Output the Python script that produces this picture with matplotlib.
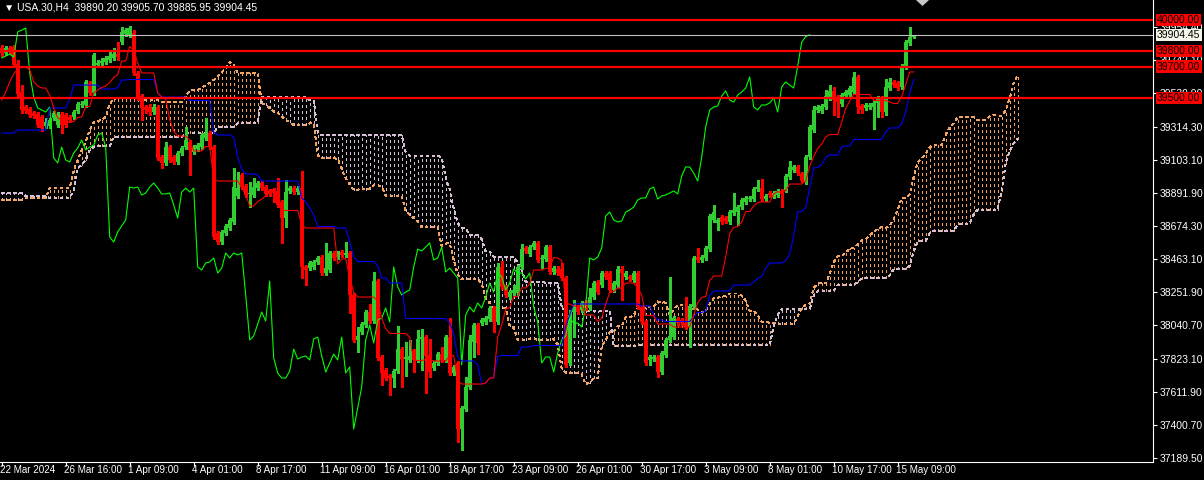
import numpy as np
import matplotlib.pyplot as plt
import matplotlib.transforms as mtransforms
from matplotlib.patches import Polygon

plt.rcParams['font.family'] = ['Liberation Sans', 'DejaVu Sans']
plt.rcParams['lines.scale_dashes'] = False

symbol = 'USA.30,H4'
last_ohlc = [39890.20, 39905.70, 39885.95, 39904.45]

# H4 candles, oldest first
opens = [
    39820, 39788, 39820, 39826, 39717, 39537, 39441, 39428, 39403, 39396,
    39377, 39319, 39319, 39370, 39326, 39396, 39390, 39377, 39377, 39415,
    39454, 39454, 39595, 39531, 39711, 39724, 39730, 39743, 39756, 39781,
    39858, 39910, 39903, 39916, 39659, 39512, 39441, 39441, 39409, 39441,
    39120, 39082, 39184, 39120, 39088, 39146, 39184, 39216, 39152, 39171,
    39184, 39242, 39274, 39184, 38632, 38574, 38632, 38664, 38703, 38870,
    39005, 38934, 38883, 38876, 38921, 38953, 38927, 38902, 38908, 38895,
    38831, 38728, 38902, 38921, 38895, 38921, 38414, 38407, 38414, 38446,
    38478, 38375, 38395, 38504, 38478, 38510, 38491, 38504, 38234, 37945,
    37997, 38042, 38125, 38067, 38324, 37836, 37753, 37714, 37701, 37746,
    37887, 37823, 37817, 37875, 37817, 37952, 37964, 37849, 37765, 37798,
    37855, 37817, 37964, 37733, 37798, 37374, 37502, 37644, 37932, 38042,
    38054, 38061, 38080, 38151, 38061, 38414, 38286, 38221, 38247, 38247,
    38414, 38536, 38497, 38542, 38568, 38465, 38465, 38542, 38382, 38401,
    38401, 38343, 37798, 38125, 38157, 38138, 38189, 38151, 38221, 38318,
    38298, 38375, 38375, 38266, 38298, 38401, 38350, 38350, 38330, 38375,
    38157, 38061, 37817, 37823, 37836, 37740, 37849, 37945, 37964, 38080,
    38074, 38054, 38029, 38157, 38478, 38459, 38472, 38529, 38716, 38696,
    38735, 38728, 38703, 38760, 38767, 38799, 38831, 38850, 38850, 38915,
    38921, 38850, 38889, 38870, 38876, 38902, 38908, 38992, 39037, 39056,
    39011, 38960, 39120, 39293, 39422, 39415, 39441, 39499, 39544, 39505,
    39460, 39512, 39518, 39537, 39634, 39448, 39435, 39441, 39441, 39467,
    39499, 39409, 39563, 39602, 39595, 39570, 39698, 39852, 39890.20]
highs = [
    39839, 39833, 39833, 39839, 39743, 39582, 39454, 39441, 39415, 39409,
    39390, 39370, 39370, 39415, 39409, 39409, 39403, 39390, 39422, 39473,
    39480, 39614, 39608, 39788, 39743, 39756, 39768, 39794, 39820, 39858,
    39955, 39948, 39961, 39935, 39672, 39525, 39454, 39460, 39460, 39454,
    39133, 39216, 39197, 39133, 39159, 39191, 39313, 39229, 39197, 39210,
    39274, 39370, 39287, 39197, 38645, 38651, 38690, 38728, 39049, 39024,
    39017, 38947, 38960, 38985, 38966, 38966, 38940, 38915, 38921, 38985,
    38844, 38972, 38934, 38934, 38934, 39030, 38427, 38452, 38459, 38484,
    38491, 38568, 38517, 38517, 38517, 38523, 38574, 38517, 38247, 38029,
    38061, 38138, 38176, 38382, 38337, 37849, 37765, 37727, 37759, 38035,
    37900, 37932, 37945, 37887, 38009, 38016, 37977, 37952, 37810, 37868,
    37900, 37977, 38086, 37785, 37810, 37522, 37708, 37977, 38054, 38054,
    38086, 38099, 38163, 38163, 38440, 38452, 38298, 38266, 38298, 38427,
    38562, 38549, 38555, 38581, 38581, 38491, 38555, 38555, 38420, 38420,
    38440, 38356, 38138, 38202, 38170, 38196, 38202, 38279, 38324, 38330,
    38388, 38388, 38388, 38324, 38420, 38420, 38388, 38362, 38388, 38388,
    38170, 38074, 37849, 37849, 37849, 37875, 37958, 38350, 38099, 38093,
    38086, 38221, 38176, 38484, 38536, 38491, 38549, 38754, 38812, 38728,
    38748, 38741, 38780, 38889, 38812, 38857, 38870, 38870, 38927, 38972,
    38979, 38883, 38902, 38902, 38915, 38915, 39011, 39094, 39069, 39069,
    39024, 39133, 39326, 39448, 39454, 39460, 39550, 39582, 39570, 39518,
    39531, 39550, 39576, 39666, 39647, 39460, 39467, 39467, 39480, 39512,
    39512, 39621, 39627, 39614, 39608, 39717, 39871, 39955, 39905.70]
lows = [
    39768, 39775, 39781, 39704, 39512, 39403, 39403, 39377, 39370, 39313,
    39287, 39306, 39306, 39358, 39313, 39274, 39313, 39345, 39364, 39403,
    39441, 39441, 39518, 39518, 39698, 39711, 39717, 39730, 39743, 39743,
    39846, 39897, 39890, 39647, 39486, 39358, 39403, 39390, 39396, 39101,
    39049, 39069, 39088, 39075, 39075, 39133, 39171, 39005, 39139, 39159,
    39171, 39229, 39171, 38594, 38562, 38562, 38619, 38651, 38690, 38857,
    38915, 38863, 38799, 38863, 38908, 38908, 38870, 38870, 38831, 38799,
    38568, 38671, 38889, 38883, 38883, 38343, 38298, 38395, 38401, 38433,
    38362, 38362, 38382, 38459, 38465, 38478, 38478, 38118, 37932, 37868,
    37984, 38029, 38054, 38054, 37817, 37656, 37688, 37592, 37644, 37733,
    37644, 37714, 37804, 37740, 37804, 37753, 37605, 37708, 37753, 37785,
    37804, 37804, 37721, 37721, 37290, 37239, 37489, 37631, 37836, 37855,
    38042, 38048, 38067, 37997, 38048, 38273, 38221, 38208, 38228, 38234,
    38401, 38504, 38484, 38529, 38446, 38407, 38452, 38369, 38369, 38362,
    38330, 37772, 37785, 37964, 38112, 38125, 38138, 38138, 38208, 38241,
    38286, 38337, 38253, 38253, 38286, 38202, 38337, 38324, 38318, 38144,
    38048, 37785, 37785, 37810, 37708, 37727, 37836, 37932, 37952, 38042,
    38042, 38016, 37900, 38144, 38446, 38446, 38459, 38517, 38703, 38651,
    38690, 38696, 38690, 38748, 38684, 38786, 38818, 38838, 38838, 38902,
    38838, 38838, 38863, 38857, 38863, 38799, 38895, 38979, 39024, 39005,
    38960, 38947, 39107, 39281, 39409, 39403, 39428, 39486, 39390, 39377,
    39448, 39499, 39505, 39525, 39403, 39403, 39422, 39428, 39300, 39377,
    39377, 39390, 39550, 39570, 39550, 39557, 39685, 39839, 39885.95]
closes = [
    39788, 39820, 39801, 39711, 39525, 39422, 39415, 39390, 39383, 39326,
    39306, 39345, 39358, 39403, 39396, 39326, 39326, 39358, 39409, 39460,
    39460, 39602, 39531, 39775, 39724, 39736, 39756, 39768, 39781, 39762,
    39923, 39935, 39948, 39659, 39505, 39435, 39422, 39409, 39441, 39114,
    39082, 39184, 39101, 39088, 39146, 39178, 39229, 39165, 39184, 39197,
    39261, 39274, 39184, 38606, 38574, 38639, 38677, 38716, 38927, 38921,
    38927, 38876, 38889, 38927, 38953, 38921, 38883, 38883, 38889, 38812,
    38728, 38895, 38921, 38895, 38921, 38414, 38395, 38440, 38446, 38472,
    38375, 38407, 38504, 38472, 38504, 38491, 38504, 38234, 37945, 37971,
    38048, 38125, 38067, 38324, 37830, 37733, 37701, 37701, 37746, 37887,
    37823, 37836, 37843, 37817, 37952, 37964, 37843, 37740, 37798, 37855,
    37817, 37964, 37733, 37772, 37374, 37509, 37644, 37945, 38042, 37926,
    38074, 38086, 38151, 38061, 38414, 38286, 38234, 38253, 38266, 38414,
    38529, 38517, 38542, 38568, 38459, 38472, 38542, 38382, 38407, 38375,
    38343, 37785, 38106, 38157, 38125, 38183, 38151, 38221, 38311, 38253,
    38375, 38350, 38266, 38311, 38401, 38375, 38375, 38337, 38375, 38157,
    38061, 37798, 37836, 37836, 37740, 37862, 37945, 37971, 38086, 38054,
    38054, 38029, 38163, 38472, 38459, 38478, 38536, 38741, 38767, 38716,
    38703, 38709, 38767, 38780, 38799, 38844, 38857, 38857, 38915, 38927,
    38850, 38870, 38876, 38889, 38902, 38883, 38998, 39056, 39056, 39017,
    38966, 39120, 39313, 39422, 39441, 39448, 39512, 39544, 39486, 39473,
    39518, 39537, 39563, 39634, 39441, 39422, 39454, 39454, 39467, 39499,
    39409, 39570, 39602, 39582, 39563, 39704, 39858, 39893, 39904.45]

# indicator values at the left edge, which depend on bars before the window
tenkan_head = [39486, 39537, 39602, 39653, 39685, 39698, 39698, 39679]
kijun_head = [39274, 39274, 39274, 39274, 39293, 39293, 39293, 39293, 39293,
              39293, 39293, 39293, 39435, 39435, 39435, 39435, 39435, 39492,
              39582, 39582, 39582, 39582, 39582, 39582, 39582]
span_a_head = [
    38844, 38844, 38844, 38844, 38844, 38844, 38857, 38857, 38857, 38857,
    38857, 38857, 38921, 38921, 38921, 38921, 38921, 38921, 39037, 39101,
    39165, 39216, 39293, 39345, 39351, 39358, 39377, 39460, 39492, 39499,
    39499, 39499, 39499, 39499, 39486, 39486, 39486, 39486, 39486, 39486,
    39473, 39473, 39473, 39473, 39473, 39473, 39512, 39544, 39550, 39550,
    39563, 39582, 39595, 39614, 39640, 39666, 39691, 39730, 39711, 39659,
    39659, 39659, 39659, 39659, 39659, 39467, 39454, 39435, 39409, 39403,
    39383, 39358, 39345, 39326, 39326, 39326, 39326]
span_b_head = [
    38889, 38889, 38889, 38889, 38889, 38889, 38870, 38870, 38870, 38870,
    38870, 38870, 38857, 38857, 38857, 38857, 38857, 38857, 38908, 39049,
    39069, 39101, 39165, 39184, 39191, 39191, 39191, 39191, 39248, 39248,
    39248, 39248, 39248, 39248, 39248, 39248, 39248, 39248, 39248, 39248,
    39248, 39248, 39248, 39248, 39248, 39248, 39274, 39274, 39274, 39274,
    39274, 39274, 39274, 39274, 39313, 39313, 39313, 39313, 39313, 39338,
    39338, 39338, 39338, 39338, 39338, 39505, 39505, 39505, 39505, 39505,
    39505, 39505, 39505, 39505, 39505, 39505, 39505]

levels = [40000.00, 39800.00, 39700.00, 39500.00]
price_ticks = [39954.40, 39742.10, 39530.90, 39314.30, 39103.10, 38891.90,
               38674.30, 38463.10, 38251.90, 38040.70, 37823.10, 37611.90,
               37400.70, 37189.50]
time_labels = ['22 Mar 2024', '26 Mar 16:00', '1 Apr 09:00', '4 Apr 01:00',
               '8 Apr 17:00', '11 Apr 09:00', '16 Apr 01:00', '18 Apr 17:00',
               '23 Apr 09:00', '26 Apr 01:00', '30 Apr 17:00', '3 May 09:00',
               '8 May 01:00', '10 May 17:00', '15 May 09:00']
label_step = 16

o = np.array(opens, float)
c = np.array(closes, float)
h = np.maximum(np.array(highs, float), np.maximum(o, c))
l = np.minimum(np.array(lows, float), np.minimum(o, c))
n = len(c)
x = np.arange(n)

# Ichimoku 9/26/52
def midpoint(i, period):
    return (h[i - period + 1:i + 1].max() + l[i - period + 1:i + 1].min()) / 2

tenkan = np.array([tenkan_head[i] if i < len(tenkan_head) else midpoint(i, 9) for i in range(n)])
kijun = np.array([kijun_head[i] if i < len(kijun_head) else midpoint(i, 26) for i in range(n)])
span_a = np.full(n + 26, np.nan)
span_b = np.full(n + 26, np.nan)
for i in range(n + 26):
    if i < len(span_a_head):
        span_a[i] = span_a_head[i]
        span_b[i] = span_b_head[i]
    else:
        j = i - 26
        span_a[i] = (tenkan[j] + kijun[j]) / 2
        span_b[i] = midpoint(j, 52)
chikou = c[26:]

fig = plt.figure(figsize=(12.04, 4.8), dpi=100, facecolor='black')
ax = fig.add_axes([0, 18 / 480, 1153 / 1204, 462 / 480])
ax.set_facecolor('black')
ax.set_xlim(-0.425, 287.825)
ax.set_ylim(37162, 40128)

# cloud: dotted columns, one per bar
dots = (0, (1.8, 2.2))
xc = np.arange(n + 26)
lo = np.minimum(span_a, span_b)
hi = np.maximum(span_a, span_b)
kumo_col = np.where(span_a >= span_b, 'sandybrown', 'thistle')
ax.vlines(xc, lo, hi, colors=list(kumo_col), linestyles=dots, lw=0.6,
          antialiased=False, zorder=1)
ax.plot(xc, span_a, color='sandybrown', lw=0.6, ls=dots, antialiased=False, zorder=1)
ax.plot(xc, span_b, color='thistle', lw=0.6, ls=dots, antialiased=False, zorder=1)

# candles
col = np.where(c >= o, 'limegreen', 'red')
ax.vlines(x, l, h, colors=list(col), lw=0.8, antialiased=False, zorder=2)
ax.bar(x, np.maximum(np.abs(c - o), 4), bottom=np.minimum(o, c), width=0.75,
       color=list(col), linewidth=0, antialiased=False, zorder=3)

# lines
ax.plot(x[:len(chikou)], chikou, color='lime', lw=0.8, zorder=4)
ax.plot(x, kijun, color='blue', lw=0.8, zorder=4)
ax.plot(x, tenkan, color='red', lw=0.8, zorder=4)

ax.axhline(last_ohlc[3], color='#c0c0c0', lw=0.8, zorder=5)
for lv in levels:
    ax.axhline(lv, color='red', lw=1.6, zorder=6)

# axes look
for s in ['top', 'left']:
    ax.spines[s].set_visible(False)
for s in ['right', 'bottom']:
    ax.spines[s].set_color('white')
    ax.spines[s].set_linewidth(0.8)
ax.yaxis.tick_right()
ax.set_yticks(price_ticks)
ax.set_yticklabels(['%.2f' % p for p in price_ticks])
ax.tick_params(axis='y', colors='white', length=3, width=0.8, pad=2, labelsize=7.5)
ax.set_xticks(np.arange(len(time_labels)) * label_step)
ax.set_xticklabels([])
ax.tick_params(axis='x', colors='white', length=3, width=0.8)

for k, lab in enumerate(time_labels):
    ax.text(k * label_step - 0.5, -0.018, lab, transform=mtransforms.blended_transform_factory(
        ax.transData, ax.transAxes), color='white', fontsize=7.1, ha='left', va='center',
        clip_on=False)

# price labels on the axis
tr = mtransforms.blended_transform_factory(fig.transFigure, ax.transData)
for lv in levels:
    ax.text(1157 / 1204, lv, '%.2f' % lv, transform=tr, color='black', fontsize=7.5,
            ha='left', va='center', clip_on=False, zorder=10,
            bbox=dict(boxstyle='square,pad=0.12', fc='red', ec='none'))
ax.text(1157 / 1204, last_ohlc[3], '%.2f' % last_ohlc[3], transform=tr, color='black',
        fontsize=7.5, ha='left', va='center', clip_on=False, zorder=10,
        bbox=dict(boxstyle='square,pad=0.12', fc='#f4f4e8', ec='none'))

header = '\u25bc %s  %s' % (symbol, ' '.join('%.2f' % v for v in last_ohlc))
fig.text(4 / 1204, 1 - 7 / 480, header, color='white', fontsize=7.5, va='center', ha='left')

# chart shift marker
fig.patches.append(Polygon([(916 / 1204, 1), (929 / 1204, 1), (922.5 / 1204, 1 - 6 / 480)],
                           closed=True, transform=fig.transFigure, fc='#c8c8c8', ec='none'))

fig.savefig('out.png', dpi=100, facecolor='black')
